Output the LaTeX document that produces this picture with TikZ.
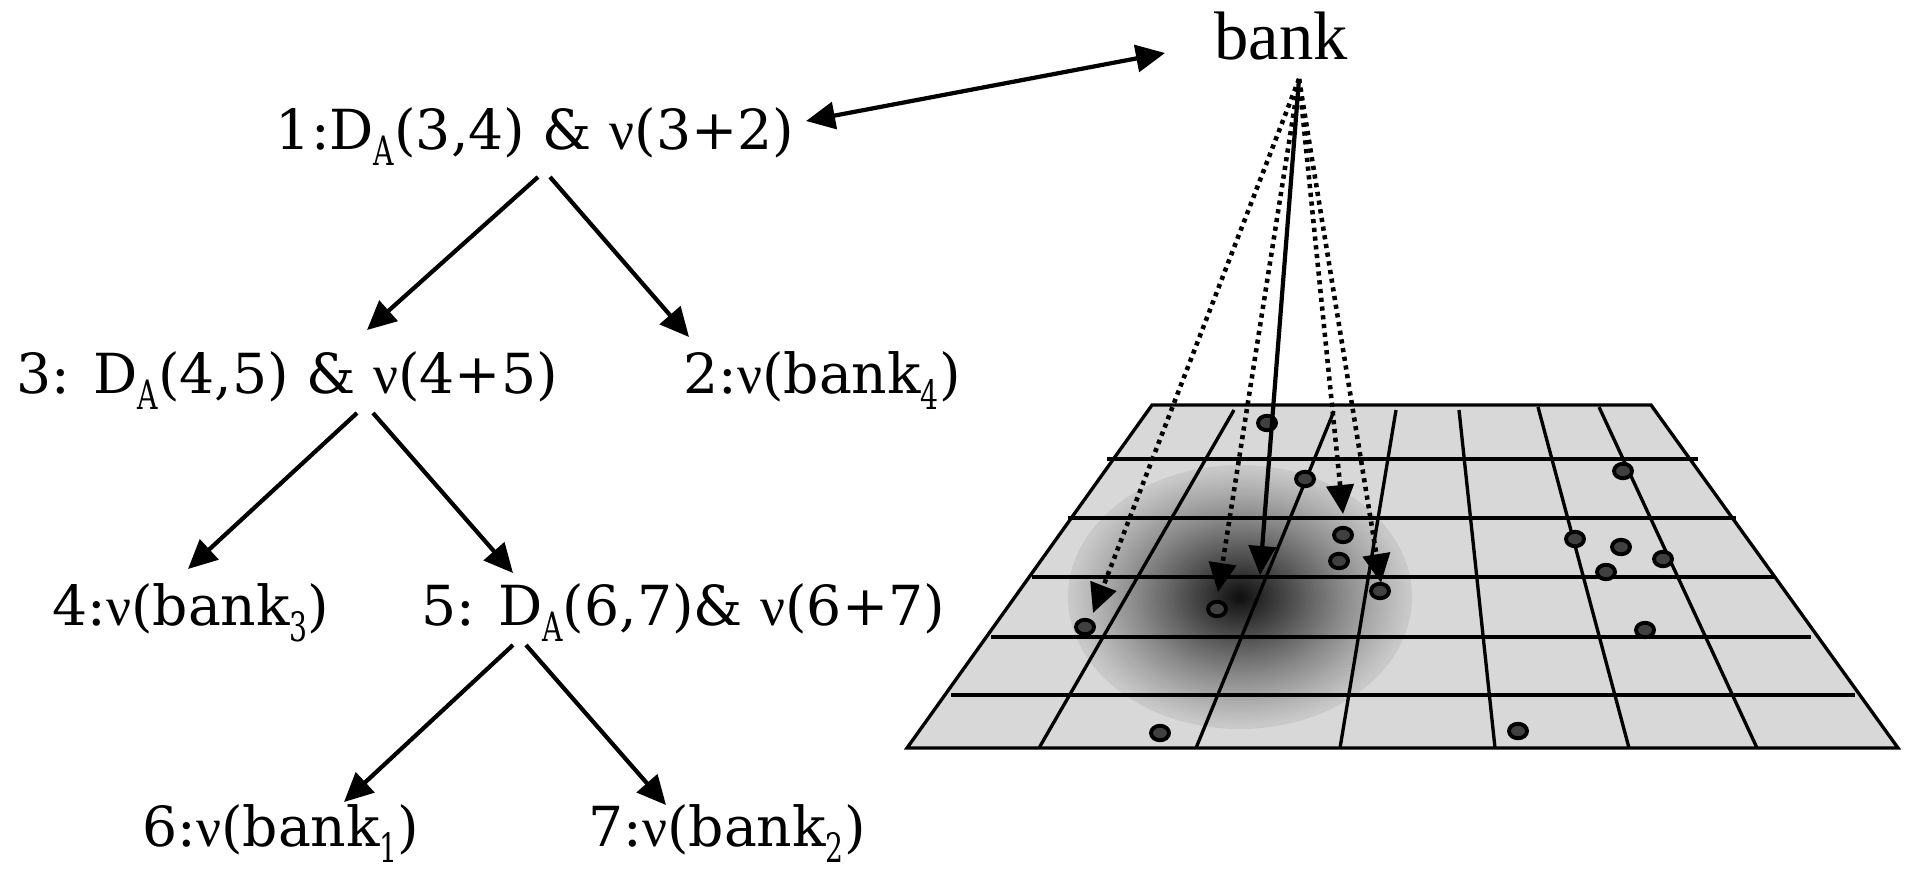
\documentclass[tikz,border=0pt]{standalone}
\usepackage{fontspec}
\usepackage{graphicx}
\setmainfont{DejaVu Serif}
\newfontfamily\bankfont{Liberation Serif}
\usetikzlibrary{arrows.meta, calc, shapes.geometric}
\definecolor{planegray}{HTML}{D8D8D8}
\definecolor{pipgray}{HTML}{404040}
\newcommand\subidx[1]{\raisebox{-0.3em}{\scalebox{0.7}[1]{\fontsize{11.5}{12}\selectfont #1}}}
\newcommand\nuv{{\bankfont ν}}
\tikzset{
  >={Triangle[length=0.29cm,width=0.27cm]},
  lbl/.style={font=\fontsize{15.7}{18}\selectfont, inner sep=0pt, anchor=base},
  arr/.style={->, line width=1.2pt},
  dotarr/.style={->, line width=1.3pt, dash pattern=on 1.2pt off 1.3pt},
  gridline/.style={line width=0.95pt},
  pip/.style={ellipse, draw, line width=1.1pt, fill=pipgray,
    minimum width=0.18cm, minimum height=0.145cm, inner sep=0pt}
}
\begin{document}
\begin{tikzpicture}[x=0.01cm, y=-0.01cm]
  \useasboundingbox (0,0) rectangle (1907,869);

  % tree of bank expressions
  \node[lbl] (n1) at (535,149) {1:D\subidx{A}(3,4) \& \nuv(3+2)};
  \node[lbl] (n3) at (287,393) {3: D\subidx{A}(4,5) \& \nuv(4+5)};
  \node[lbl] (n2) at (822,393) {2:\nuv(bank\subidx{4})};
  \node[lbl] (n4) at (191,625) {4:\nuv(bank\subidx{3})};
  \node[lbl] (n5) at (683,625) {5: D\subidx{A}(6,7)\& \nuv(6+7)};
  \node[lbl] (n6) at (281,846) {6:\nuv(bank\subidx{1})};
  \node[lbl] (n7) at (727,846) {7:\nuv(bank\subidx{2})};
  \node[lbl, font=\bankfont\fontsize{19.5}{22}\selectfont] (bank) at (1281,59) {bank};

  \draw[arr] ($(n1.base)+(3,28)$) -- ($(n3.base)+(80,-63)$);
  \draw[arr] ($(n1.base)+(15,28)$) -- ($(n2.base)+(-133,-56)$);
  \draw[arr] ($(n3.base)+(70,20)$) -- ($(n4.base)+(-3,-56)$);
  \draw[arr] ($(n3.base)+(86,20)$) -- ($(n5.base)+(-170,-52)$);
  \draw[arr] ($(n5.base)+(-170,20)$) -- ($(n6.base)+(63,-44)$);
  \draw[arr] ($(n5.base)+(-157,20)$) -- ($(n7.base)+(-61,-41)$);
  \draw[arr, <->] ($(n1.base)+(271,-28)$) -- ($(bank.base)+(-116,-6)$);

  % the plane
  \fill[planegray] (1152,405) -- (1651,405) -- (1898,748) -- (907,748) -- cycle;
  \foreach \k in {0,...,59} {
    \pgfmathsetmacro\r{1-\k/60}
    \pgfmathsetmacro\p{21+74*(1-\r)^1.15}
    \fill[black!\p] (1240,597) ellipse [x radius=172*\r, y radius=132*\r];
  }
  \foreach \xa/\xb/\yy in {1107/1698/459, 1068/1736/518, 1032/1775/577,
                           991/1811/637, 951/1855/695}
    \draw[gridline] (\xa,\yy) -- (\xb,\yy);
  \foreach \xa/\ya/\xb in {1234/410/1039, 1334/411/1196, 1396/410/1340,
                           1459/410/1495, 1538/407/1629, 1599/407/1757}
    \draw[gridline] (\xa,\ya) -- (\xb,748);
  \draw[gridline] (1152,405) -- (1651,405) -- (1898,748) -- (907,748) -- cycle;

  \foreach \px/\py [count=\i] in {1267/423, 1305/479, 1343/535, 1339/561, 1380/591,
      1217/609, 1085/627, 1160/733, 1518/731, 1623/471, 1575/539, 1621/547,
      1663/559, 1606/572, 1645/630}
    \node[pip] (d\i) at (\px,\py) {};

  % bank to the plane
  \coordinate (src) at ($(bank.base)+(18,20)$);
  \draw[dotarr] (src) -- ($(d7)+(8,-14)$);
  \draw[dotarr] (src) -- ($(d6)+(1,-17)$);
  \draw[arr] (src) -- ($(d6)+(43,-34)$);
  \draw[dotarr] (src) -- ($(d3)+(0,-21)$);
  \draw[dotarr] (src) -- ($(d5)+(1,-8)$);
\end{tikzpicture}
\end{document}
